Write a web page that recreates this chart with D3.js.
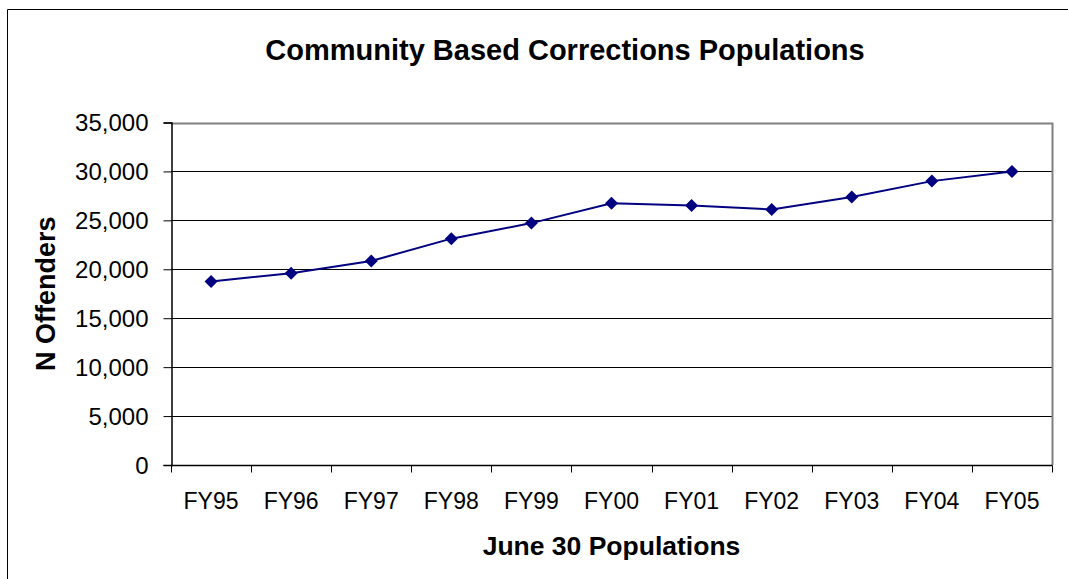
<!DOCTYPE html>
<html>
<head>
<meta charset="utf-8">
<script src="https://cdn.jsdelivr.net/npm/d3@7"></script>
<style>
  html, body { margin: 0; padding: 0; background: #fff; }
  svg { display: block; font-family: "Liberation Sans", Arial, sans-serif; }
</style>
</head>
<body>
<svg id="chart" width="1068" height="579"></svg>
<script>
// Fiscal years (June 30 snapshot) and offender counts
const years = ["FY95", "FY96", "FY97", "FY98", "FY99", "FY00", "FY01", "FY02", "FY03", "FY04", "FY05"];
const offenders = [18750, 19600, 20850, 23130, 24720, 26740, 26530, 26120, 27380, 29010, 30000];
const yTicks = [0, 5000, 10000, 15000, 20000, 25000, 30000, 35000];

const svg = d3.select("#chart");
const margin = { left: 171, right: 1052, top: 122.5, bottom: 465 };
const FONT = "Liberation Sans, Arial, sans-serif";

// outer chart frame (left and top edges visible)
svg.append("path")
  .attr("d", `M7.5,579 V9.5 H1068`)
  .attr("fill", "none").attr("stroke", "#000").attr("stroke-width", 1);

const x = d3.scaleBand().domain(years).range([margin.left, margin.right]).padding(0);
const y = d3.scaleLinear().domain([0, 35000]).range([margin.bottom, margin.top]);

// horizontal gridlines
svg.append("g").selectAll("line")
  .data(yTicks.filter(d => d > 0 && d < 35000))
  .join("line")
  .attr("x1", margin.left).attr("x2", margin.right)
  .attr("y1", d => Math.round(y(d)) + 0.5).attr("y2", d => Math.round(y(d)) + 0.5)
  .attr("stroke", "#000").attr("stroke-width", 1);

// plot frame top and right in grey
svg.append("path")
  .attr("d", `M${margin.left},${Math.round(margin.top) + 0.5} H${margin.right + 0.5} V${margin.bottom}`)
  .attr("fill", "none").attr("stroke", "#808080").attr("stroke-width", 2);

// y axis
const yAxis = svg.append("g")
  .attr("transform", `translate(${margin.left + 0.5},0)`)
  .call(d3.axisLeft(y).tickValues(yTicks).tickSize(8).tickPadding(15)
    .tickFormat(d3.format(",")));
yAxis.select(".domain").attr("stroke", "#000").attr("stroke-width", 1.5);
yAxis.selectAll(".tick line").attr("stroke", "#000");
yAxis.selectAll(".tick text").attr("font-size", 24).attr("fill", "#000")
  .attr("font-family", FONT).attr("dy", "0.35em");

// x axis with ticks between categories
const xAxisG = svg.append("g").attr("transform", `translate(0,${margin.bottom + 0.5})`);
xAxisG.append("line")
  .attr("x1", margin.left).attr("x2", margin.right + 0.5)
  .attr("stroke", "#000").attr("stroke-width", 1.5);
const bounds = years.map(d => x(d)).concat([margin.right]);
xAxisG.selectAll("line.tk").data(bounds).join("line").attr("class", "tk")
  .attr("x1", d => Math.round(d) + 0.5).attr("x2", d => Math.round(d) + 0.5)
  .attr("y1", 0).attr("y2", 7).attr("stroke", "#000");
xAxisG.selectAll("text").data(years).join("text")
  .attr("x", d => x(d) + x.bandwidth() / 2)
  .attr("y", 43)
  .attr("text-anchor", "middle")
  .attr("font-size", 23).attr("fill", "#000")
  .text(d => d);

// line and diamond markers
const pts = years.map((d, i) => [x(d) + x.bandwidth() / 2, y(offenders[i])]);
svg.append("path")
  .attr("d", d3.line()(pts))
  .attr("fill", "none").attr("stroke", "#000080").attr("stroke-width", 2);
svg.append("g").selectAll("path")
  .data(pts).join("path")
  .attr("transform", d => `translate(${d[0]},${d[1]})`)
  .attr("d", "M0,-6.5 L6.5,0 L0,6.5 L-6.5,0 Z")
  .attr("fill", "#000080");

// titles
svg.append("text")
  .attr("x", 565).attr("y", 60)
  .attr("text-anchor", "middle")
  .attr("font-size", 29).attr("font-weight", "bold")
  .text("Community Based Corrections Populations");

svg.append("text")
  .attr("x", (margin.left + margin.right) / 2).attr("y", 555)
  .attr("text-anchor", "middle")
  .attr("font-size", 26.5).attr("font-weight", "bold")
  .text("June 30 Populations");

svg.append("text")
  .attr("transform", `translate(55,${(margin.top + margin.bottom) / 2}) rotate(-90)`)
  .attr("text-anchor", "middle")
  .attr("font-size", 27).attr("font-weight", "bold")
  .text("N Offenders");
</script>
</body>
</html>
